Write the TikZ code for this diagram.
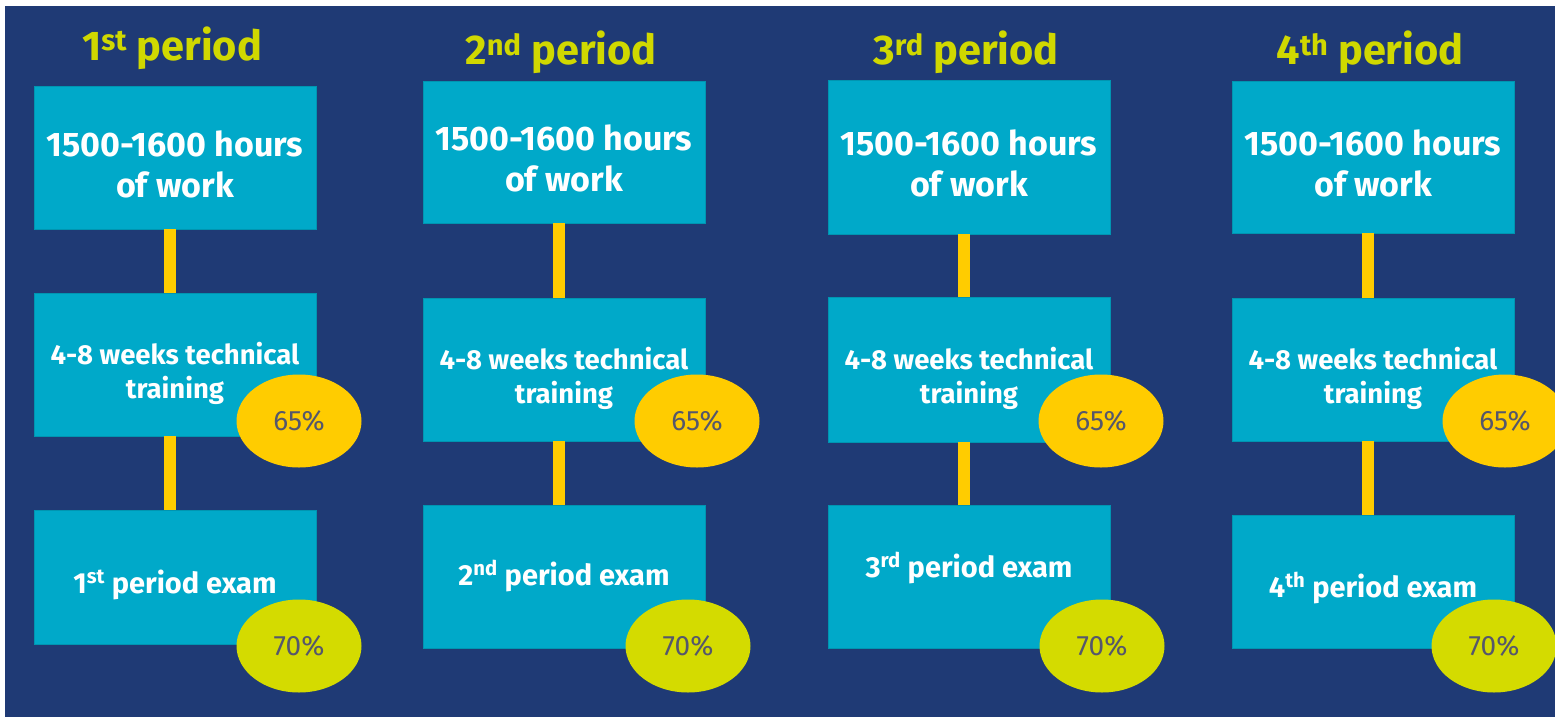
\documentclass[tikz,border=0pt]{standalone}
\usepackage{fontspec}
\setmainfont{Fira Sans}
\usepackage{xcolor}
\usetikzlibrary{shapes,positioning}

\definecolor{navy}{HTML}{1F3A75}
\definecolor{stageblue}{HTML}{00A9C9}
\definecolor{linkyellow}{HTML}{FFCC00}
\definecolor{examlime}{HTML}{D4DB00}
\definecolor{periodgreen}{HTML}{D0D800}
\definecolor{pctgrey}{HTML}{55576C}

\tikzset{
  period/.style={anchor=base, text=periodgreen, inner sep=0pt,
    font=\bfseries\fontsize{41.5}{46}\selectfont},
  stagebox/.style={fill=stageblue, draw=stageblue!88!black, line width=0.8pt,
    text=white, align=center, inner sep=0pt, minimum width=282pt},
  workbox/.style={stagebox, text height=79pt, text depth=0pt,
    font=\bfseries\fontsize{34}{41}\selectfont},
  trainbox/.style={stagebox, text height=67pt, text depth=0pt,
    font=\bfseries\fontsize{27.5}{34}\selectfont},
  exambox/.style={stagebox, text depth=0pt,
    font=\bfseries\fontsize{29}{34}\selectfont},
  pct/.style={ellipse, inner sep=0pt, minimum width=125pt, minimum height=93pt,
    text=pctgrey, font=\fontsize{28}{32}\selectfont},
  link/.style={draw=linkyellow, line width=12pt}
}

\begin{document}
\begin{tikzpicture}[x=1pt,y=-1pt]
  \useasboundingbox (0,0) rectangle (1555,717);
  \fill[white] (0,0) rectangle (1555,717);
  \fill[navy] (5,6) rectangle (1555,717);

  %% column: number/suffix/x/title y/box1 y/h/box2 y/h/box3 y/h/exam text/ellipse x's
  \foreach \i/\sup/\x/\ty/\ya/\ha/\yb/\hb/\yc/\hc/\et/\ea/\eb in {
      1/st/175/60/157.5/143/364.5/143/577/134/32/299/299,
      2/nd/564/65/152/142/369.5/143/576.5/143/17/697/688,
      3/rd/969/65/157/154/369.5/145/576.5/143/1/1101/1102,
      4/th/1373/65/157/152/369.5/143/581.5/133/31/1505/1494}{
    \node[period] (title\i) at (\x-3,\ty) {\i\textsuperscript{\sup} period};
    \node[workbox, minimum height=\ha pt] (work\i) at (\x,\ya)
      {1500-1600 hours\\of work};
    \node[trainbox, minimum height=\hb pt] (train\i) at (\x,\yb)
      {4-8 weeks technical\\training};
    \node[exambox, minimum height=\hc pt, text height=\et pt] (exam\i) at (\x,\yc)
      {\i\textsuperscript{\sup} period exam};
    \draw[link] ([xshift=-5pt]work\i.south) -- ([xshift=-5pt]work\i.south |- train\i.north);
    \draw[link] ([xshift=-5pt]train\i.south) -- ([xshift=-5pt]train\i.south |- exam\i.north);
    \node[pct, fill=linkyellow] (pa\i) at (\ea,421) {65\%};
    \node[pct, fill=examlime] (pb\i) at (\eb,646) {70\%};
  }
\end{tikzpicture}
\end{document}
